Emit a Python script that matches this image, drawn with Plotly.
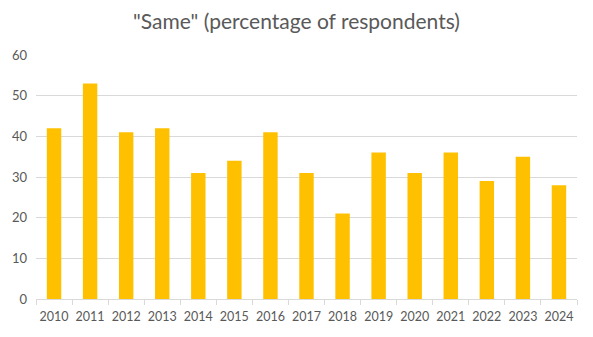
import plotly.graph_objects as go

years = ["2010", "2011", "2012", "2013", "2014", "2015", "2016", "2017",
         "2018", "2019", "2020", "2021", "2022", "2023", "2024"]
same_pct = [42, 53, 41, 42, 31, 34, 41, 31, 21, 36, 31, 36, 29, 35, 28]

fig = go.Figure(
    go.Bar(x=years, y=same_pct, marker=dict(color="#FFC000", line_width=0))
)

fig.update_layout(
    width=593,
    height=337,
    margin=dict(l=36, r=16, t=55, b=38, autoexpand=False),
    paper_bgcolor="white",
    plot_bgcolor="white",
    bargap=0.6,
    showlegend=False,
    font=dict(family="Lato, Open Sans, sans-serif", color="#595959"),
    title=dict(
        text='"Same" (percentage of respondents)',
        x=0.5,
        xanchor="center",
        y=0.935,
        yanchor="middle",
        font=dict(size=21, color="#595959"),
    ),
)

fig.update_xaxes(
    type="category",
    automargin=False,
    tickangle=0,
    showgrid=False,
    showline=True,
    linecolor="#d9d9d9",
    linewidth=1,
    ticks="outside",
    tickson="boundaries",
    ticklen=5,
    tickcolor="#d9d9d9",
    ticklabelstandoff=6,
    tickfont=dict(size=12.5, color="#595959"),
)

fig.update_yaxes(
    automargin=False,
    range=[0, 60],
    dtick=10,
    showgrid=True,
    gridcolor="#d9d9d9",
    gridwidth=1,
    zeroline=False,
    showline=False,
    ticks="",
    ticklabelstandoff=8,
    tickfont=dict(size=13, color="#595959"),
)

fig.write_html("out.html")
